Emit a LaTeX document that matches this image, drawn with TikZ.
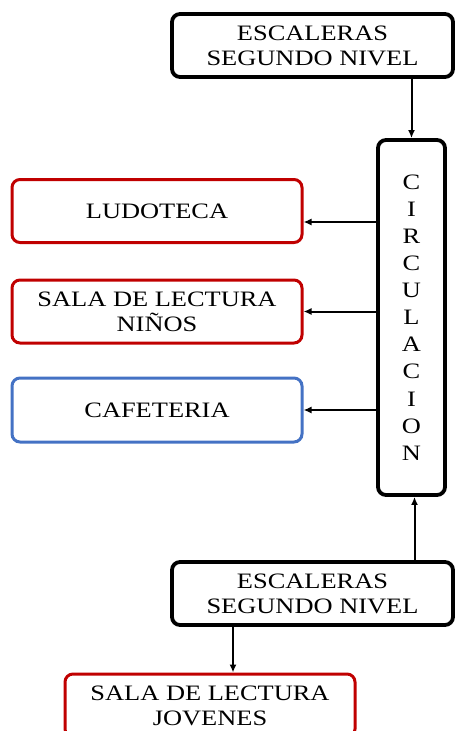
\documentclass[tikz,border=0pt]{standalone}
\usepackage{fontspec}
\setmainfont[FakeStretch=1.2]{Liberation Serif}
\usetikzlibrary{arrows.meta}
\definecolor{salared}{HTML}{C00000}
\definecolor{cafeblue}{HTML}{4472C4}
\tikzset{
  box/.style={draw,rounded corners=8pt,align=center,inner sep=0pt,
    font=\fontsize{22}{25}\selectfont},
  stairbox/.style={box,line width=3.8pt,minimum width=281pt,minimum height=63pt},
  roombox/.style={box,line width=3pt,minimum width=290pt,minimum height=63pt},
  link/.style={line width=2pt,-{Latex[length=8pt,width=7pt]}}
}
\begin{document}
\begin{tikzpicture}[x=1pt,y=1pt]
      \useasboundingbox (0,0) rectangle (455,-731);

      \node[stairbox] (stairsTop) at (312.5,-45.5) {ESCALERAS\\SEGUNDO NIVEL};
      \node[box,line width=3.8pt,minimum width=67pt,minimum height=355pt,
        font=\fontsize{22}{27.1}\selectfont] (circ) at (411.5,-317.5)
        {C\\I\\R\\C\\U\\L\\A\\C\\I\\O\\N};

      \node[roombox,salared] (ludo) at (157,-211) {\color{black}LUDOTECA};
      \node[roombox,salared] (ninos) at (157,-311.5) {\color{black}SALA DE LECTURA\\\color{black}NIÑOS};
      \node[roombox,cafeblue,minimum height=64pt] (cafe) at (157,-410) {\color{black}CAFETERIA};

      \node[stairbox] (stairsBot) at (312.5,-593.5) {ESCALERAS\\SEGUNDO NIVEL};
      \node[roombox,salared] (jovenes) at (210,-705.5) {\color{black}SALA DE LECTURA\\\color{black}JOVENES};

      % circulacion
      \draw[link] (stairsTop.south -| circ.north) -- (circ.north);
      \draw[link] ([yshift=-11pt]ludo.east -| circ.west) -- ([yshift=-11pt]ludo.east);
      \draw[link] (ninos.east -| circ.west) -- (ninos.east);
      \draw[link] (cafe.east -| circ.west) -- (cafe.east);
      \draw[link] ([xshift=3pt]stairsBot.north -| circ.south) -- ([xshift=3pt]circ.south);
      \draw[link] ([xshift=23pt]jovenes.north |- stairsBot.south) -- ([xshift=23pt]jovenes.north);
    \end{tikzpicture}
\end{document}
